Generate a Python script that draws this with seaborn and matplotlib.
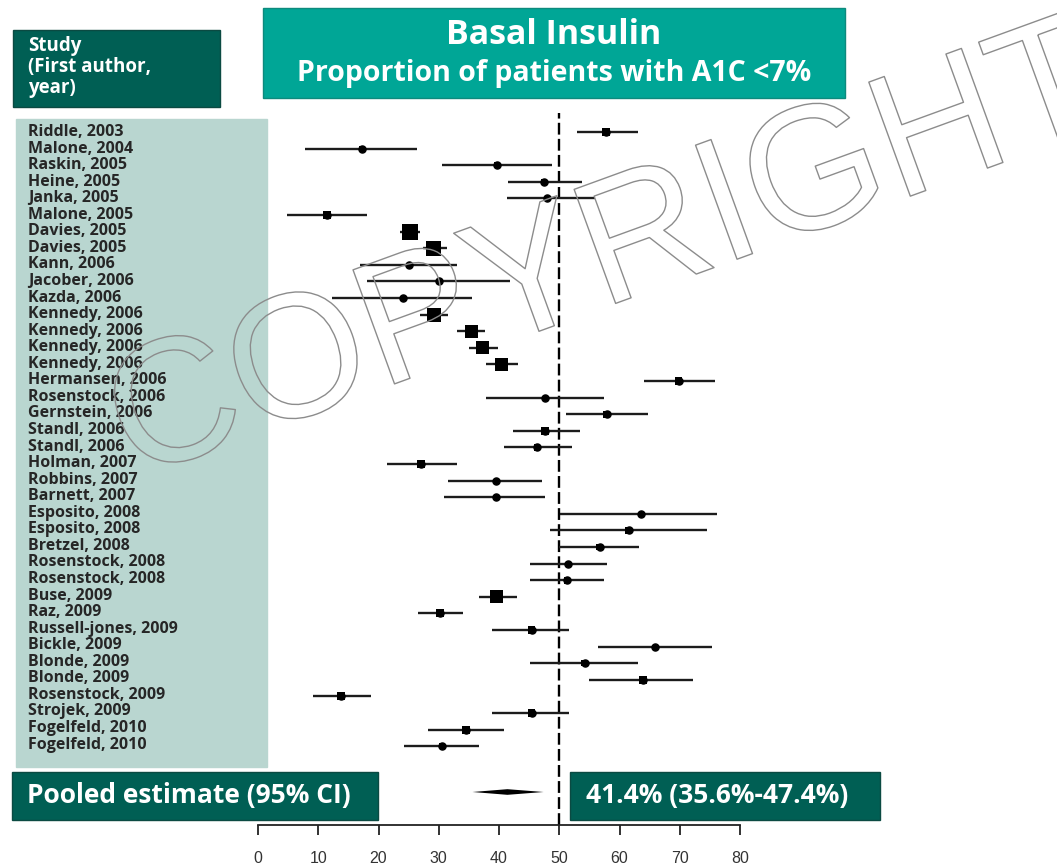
import numpy as np
import pandas as pd
import matplotlib
matplotlib.use("Agg")
import matplotlib.pyplot as plt
import matplotlib.patheffects as pe
from matplotlib.patches import Rectangle
from matplotlib.transforms import blended_transform_factory
import seaborn as sns

# Study data (proportion of patients reaching A1C <7%, with 95% CI)
studies = ["Riddle, 2003", "Malone, 2004", "Raskin, 2005", "Heine, 2005", "Janka, 2005",
           "Malone, 2005", "Davies, 2005", "Davies, 2005", "Kann, 2006", "Jacober, 2006",
           "Kazda, 2006", "Kennedy, 2006", "Kennedy, 2006", "Kennedy, 2006", "Kennedy, 2006",
           "Hermansen, 2006", "Rosenstock, 2006", "Gernstein, 2006", "Standl, 2006", "Standl, 2006",
           "Holman, 2007", "Robbins, 2007", "Barnett, 2007", "Esposito, 2008", "Esposito, 2008",
           "Bretzel, 2008", "Rosenstock, 2008", "Rosenstock, 2008", "Buse, 2009", "Raz, 2009",
           "Russell-jones, 2009", "Bickle, 2009", "Blonde, 2009", "Blonde, 2009", "Rosenstock, 2009",
           "Strojek, 2009", "Fogelfeld, 2010", "Fogelfeld, 2010"]
estimate = [57.8, 17.2, 39.6, 47.5, 48.0, 11.4, 25.2, 29.2, 25.1, 30.0,
            24.0, 29.2, 35.4, 37.3, 40.4, 69.8, 47.6, 57.9, 47.6, 46.3,
            27.1, 39.5, 39.5, 63.5, 61.5, 56.7, 51.5, 51.3, 39.6, 30.2,
            45.4, 65.9, 54.2, 63.9, 13.7, 45.4, 34.5, 30.5]
ci_low = [53.0, 7.8, 30.5, 41.5, 41.3, 4.8, 23.6, 27.4, 16.9, 18.1,
          12.2, 26.9, 33.0, 35.1, 37.9, 64.0, 37.9, 51.2, 42.4, 40.8,
          21.4, 31.6, 30.8, 50.2, 48.5, 49.9, 45.2, 45.2, 36.6, 26.5,
          38.9, 56.4, 45.2, 55.0, 9.1, 38.9, 28.2, 24.3]
ci_high = [63.0, 26.4, 48.8, 53.8, 56.0, 18.1, 26.9, 31.3, 33.0, 41.9,
           35.5, 31.6, 37.7, 39.8, 43.1, 75.9, 57.4, 64.7, 53.4, 52.1,
           33.0, 47.1, 47.7, 76.2, 74.5, 63.2, 57.9, 57.4, 43.0, 34.1,
           51.7, 75.4, 63.1, 72.2, 18.8, 51.7, 40.9, 36.6]
weight = [1.6, 1.0, 1.0, 1.0, 0.8, 1.6, 5.0, 4.5, 0.8, 0.8,
          0.8, 4.0, 3.5, 3.5, 3.8, 1.5, 0.8, 1.3, 1.5, 1.2,
          1.5, 0.8, 0.8, 0.8, 1.2, 1.3, 1.0, 1.3, 3.5, 1.6,
          1.5, 0.6, 1.2, 1.6, 1.6, 1.5, 1.6, 1.0]

pooled_est, pooled_lo, pooled_hi = 41.4, 35.6, 47.4
x_ticks = [0, 10, 20, 30, 40, 50, 60, 70, 80]

df = pd.DataFrame({"study": studies, "est": estimate, "lo": ci_low,
                   "hi": ci_high, "weight": weight})
df["row"] = np.arange(len(df))

# colours
DARK = "#005F54"
TEAL = "#00A696"
PANEL = "#B9D6D0"

sns.set_theme(style="white")
plt.rcParams["font.family"] = ["Open Sans", "DejaVu Sans"]

W, H = 1057, 866
fig = plt.figure(figsize=(W / 100, H / 100), dpi=100)


def fx(x):
    return x / W


def fy(y):
    return 1 - y / H


def box(x0, y0, x1, y1, color, ec=None):
    fig.patches.append(Rectangle((fx(x0), fy(y1)), fx(x1 - x0), (y1 - y0) / H,
                                 transform=fig.transFigure, facecolor=color,
                                 edgecolor=ec if ec else color, lw=1, zorder=1))


# row geometry (pixels)
ROW0, STEP = 132, 16.6
ax_top, ax_bot = 113, 825
ax = fig.add_axes([fx(258), fy(ax_bot), fx(740 - 258), (ax_bot - ax_top) / H])
ax.set_facecolor("none")
ax.set_zorder(2)

# left panel with study names
box(16, 119, 267, 767, PANEL)
box(13, 30, 220, 107, DARK, "#0b4a42")
fig.text(fx(28), fy(36), "Study\n(First author,\nyear)", color="white",
         fontsize=13.5, fontweight="bold", va="top", ha="left", linespacing=1.06)

# title box
box(263, 8, 845, 98, TEAL, "#0d8a7d")
fig.text(fx(554), fy(35), "Basal Insulin", color="white", fontsize=24.5,
         fontweight="bold", ha="center", va="center")
fig.text(fx(554), fy(73), "Proportion of patients with A1C <7%", color="white",
         fontsize=20.5, fontweight="bold", ha="center", va="center")

# CI lines and point estimates
ax.hlines(df["row"], df["lo"], df["hi"], color="#1c1c1c", lw=1.7, zorder=2)
sns.scatterplot(data=df, x="est", y="row", size="weight", sizes=(4, 130),
                marker="s", color="black", edgecolor="black", linewidth=0,
                legend=False, ax=ax, zorder=3)
ax.scatter(df["est"], df["row"], s=26, color="black", zorder=4)

# pooled diamond
pooled_row = (792 - ROW0) / STEP
ax.fill([pooled_lo, pooled_est, pooled_hi, pooled_est],
        [pooled_row, pooled_row - 0.17, pooled_row, pooled_row + 0.17],
        color="black", lw=0, zorder=3)

ax.axvline(50, color="black", lw=1.7, ls=(0, (5, 1.8)), zorder=1)

ax.set_xlim(0, 80)
ax.set_ylim((ax_bot - ROW0) / STEP, (ax_top - ROW0) / STEP)
ax.set_xticks(x_ticks)
ax.set_xticklabels([str(t) for t in x_ticks], family="Liberation Sans",
                   fontsize=11.5, color="#333333")
ax.set_yticks([])
ax.set_xlabel("")
ax.set_ylabel("")
for s in ["left", "top", "right"]:
    ax.spines[s].set_visible(False)
ax.spines["bottom"].set_color("#222222")
ax.spines["bottom"].set_linewidth(1.3)
ax.tick_params(axis="x", bottom=True, direction="out", length=7, width=1.3,
               color="#222222", pad=12)

# study labels aligned to rows
trans = blended_transform_factory(fig.transFigure, ax.transData)
for _, r in df.iterrows():
    ax.text(fx(28), r["row"] - 0.1 * r["row"] / len(df), r["study"], transform=trans,
            ha="left", va="center", fontsize=11.5, fontweight="bold",
            color="#262626", clip_on=False)

# pooled estimate boxes
box(12, 772, 378, 820, DARK, "#0b4a42")
box(570, 772, 880, 820, DARK, "#0b4a42")
fig.text(fx(27), fy(796), "Pooled estimate (95% CI)", color="white", fontsize=19,
         fontweight="bold", ha="left", va="center", zorder=5)
fig.text(fx(717), fy(796), "41.4% (35.6%-47.4%)", color="white", fontsize=19,
         fontweight="bold", ha="center", va="center", zorder=5)

# watermark
fig.text(fx(625), fy(300), "COPYRIGHT", family="Liberation Sans", fontsize=127,
         rotation=20, rotation_mode="anchor", ha="center", va="baseline",
         color=(1, 1, 1, 0), zorder=10,
         path_effects=[pe.Stroke(linewidth=1.0, foreground="#8c8c8c")])

fig.savefig("out.png", dpi=100)
